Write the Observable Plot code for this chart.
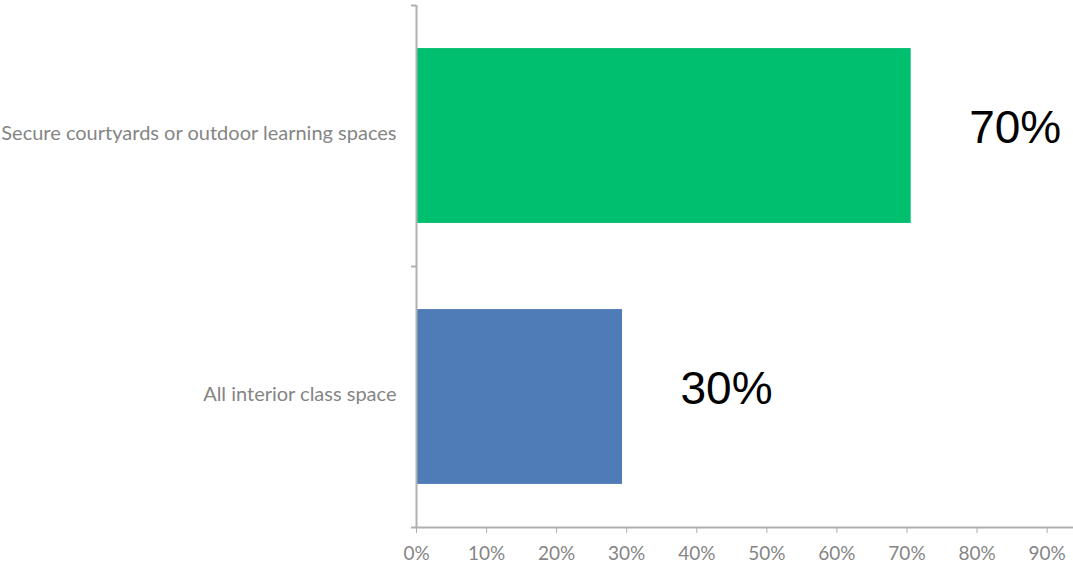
<!DOCTYPE html>
<html>
<head>
<meta charset="utf-8">
<script src="https://cdn.jsdelivr.net/npm/d3@7"></script>
<script src="https://cdn.jsdelivr.net/npm/@observablehq/plot@0.6"></script>
<style>
  html, body { margin: 0; padding: 0; background: #fff; }
  #chart svg { display: block; }
</style>
</head>
<body>
<div id="chart"></div>
<script>
// Categories listed bottom to top (Excel order)
const categories = ["All interior class space", "Secure courtyards or outdoor learning spaces"];
const values = [0.294, 0.706];
const valueLabels = ["30%", "70%"];
const barColors = ["#4f7cb6", "#00bf6f"];
const xTicks = [0, 0.1, 0.2, 0.3, 0.4, 0.5, 0.6, 0.7, 0.8, 0.9];

const data = categories.map((c, i) => ({ category: c, value: values[i], label: valueLabels[i], i }));

const labelFont = "Lato, 'Open Sans', sans-serif";
const gap = 0.165;

const chart = Plot.plot({
  width: 1073,
  height: 565,
  marginLeft: 416,
  marginRight: 0,
  marginTop: 5,
  marginBottom: 38,
  style: { background: "#fff", fontFamily: labelFont },
  x: { domain: [0, 1], range: [416, 1116.7] },
  y: { domain: [0, categories.length] },
  color: { domain: categories, range: barColors },
  marks: [
    Plot.rectX(data, {
      x1: 0,
      x2: "value",
      y1: d => d.i + gap,
      y2: d => d.i + 1 - gap,
      fill: "category"
    }),
    Plot.ruleX([0], { stroke: "#b0b0b0", strokeWidth: 2 }),
    Plot.ruleY([0], { stroke: "#b0b0b0", strokeWidth: 2 }),
    Plot.axisY({
      ticks: [0, 1, 2],
      tickSize: 5,
      tickFormat: () => "",
      stroke: "#b0b0b0",
      strokeWidth: 2,
      label: null
    }),
    Plot.axisX({
      ticks: xTicks,
      tickFormat: d3.format(".0%"),
      tickSize: 6,
      tickPadding: 13,
      stroke: "#b0b0b0",
      fill: "#858585",
      fontSize: 19,
      fontFamily: labelFont,
      label: null
    }),
    Plot.text(data, {
      x: 0,
      y: d => d.i + 0.5,
      text: "category",
      textAnchor: "end",
      dx: -20,
      dy: -2,
      fill: "#858585",
      fontSize: 20,
      fontFamily: labelFont
    }),
    Plot.text(data, {
      x: "value",
      y: d => d.i + 0.5,
      text: "label",
      textAnchor: "start",
      dx: 58,
      dy: -8,
      fill: "#000",
      fontSize: 46,
      fontFamily: "'Liberation Sans', Arial, sans-serif"
    })
  ]
});

document.getElementById("chart").appendChild(chart);
</script>
</body>
</html>
